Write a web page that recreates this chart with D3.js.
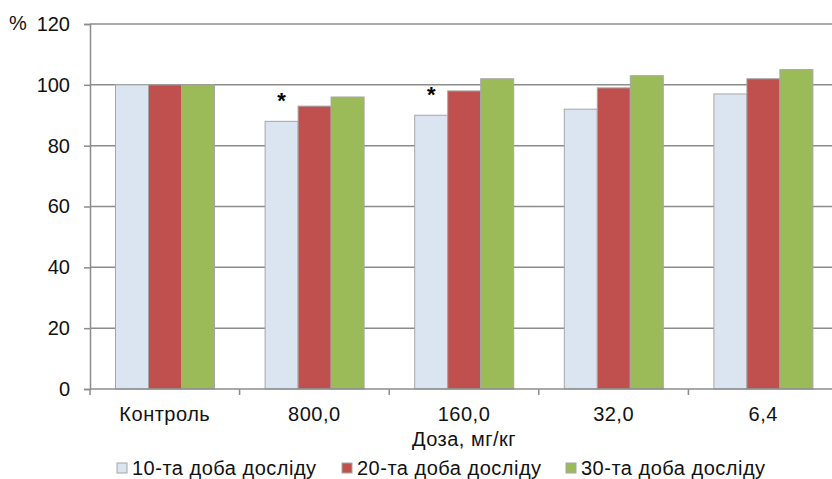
<!DOCTYPE html>
<html><head><meta charset="utf-8">
<script src="https://cdn.jsdelivr.net/npm/d3@7"></script>
<style>
html,body{margin:0;padding:0;background:#fff;}
svg{display:block;font-family:"Liberation Sans",Arial,sans-serif;}
</style></head>
<body>
<svg id="c" width="832" height="479"></svg>
<script>
const categories = ["Контроль","800,0","160,0","32,0","6,4"];
const seriesNames = ["10-та доба досліду","20-та доба досліду","30-та доба досліду"];
const day10 = [100, 88, 90, 92, 97];
const day20 = [100, 93, 98, 99, 102];
const day30 = [100, 96, 102, 103, 105];
const significant = [false, true, true, false, false];
const yTicks = [0,20,40,60,80,100,120];
const colors = ["#dbe5f1","#c0504d","#9bbb59"];

(function(){
const FS = 20;
const LS = 0.5;
const series = [day10, day20, day30];
const svg = d3.select("#c");
const mLeft = 90, mRight = 838, mTop = 24, mBottom = 389;

const x = d3.scaleBand().domain(categories).range([mLeft, mRight]).padding(0);
const y = d3.scaleLinear().domain([0,120]).range([mBottom, mTop]);
const inner = d3.scaleBand().domain(d3.range(series.length)).range([25.5, 124.5]).padding(0);

// gridlines
svg.append("g").selectAll("line").data(yTicks.filter(t=>t>0)).join("line")
  .attr("x1", mLeft).attr("x2", 832)
  .attr("y1", d=>y(d)).attr("y2", d=>y(d))
  .attr("stroke", "#8c8c8c").attr("stroke-width", 1.5);

// bars
const g = svg.append("g");
series.forEach((vals, si) => {
  g.selectAll(null).data(vals).join("rect")
    .attr("x", (d,i)=> x(categories[i]) + inner(si))
    .attr("y", d=> y(d))
    .attr("width", inner.bandwidth())
    .attr("height", d=> y(0)-y(d))
    .attr("fill", colors[si])
    .attr("stroke", "#a6a6a6").attr("stroke-width", 1);
});

// asterisks
svg.append("g").selectAll("text").data(categories.filter((c,i)=>significant[i])).join("text")
  .attr("x", c=> x(c) + inner(0) + inner.bandwidth()/2)
  .attr("y", c=> y(day10[categories.indexOf(c)]) - 13)
  .attr("text-anchor","middle")
  .attr("font-size", 22).attr("font-weight","bold")
  .text("*");

// y axis
const yAxis = d3.axisLeft(y).tickValues(yTicks).tickSize(6).tickPadding(14);
const ya = svg.append("g").attr("transform", `translate(${mLeft},0)`).call(yAxis);
ya.attr("font-size", FS).attr("font-family","Liberation Sans, Arial, sans-serif");
ya.select(".domain").attr("stroke","#8c8c8c").attr("stroke-width",1.5);
ya.selectAll(".tick line").attr("stroke","#8c8c8c").attr("stroke-width",1.5);
ya.selectAll(".tick text").attr("fill","#111");

// x axis
const xa = svg.append("g").attr("transform", `translate(0,${mBottom})`);
xa.append("line").attr("x1", mLeft).attr("x2", 832).attr("y1",0).attr("y2",0)
  .attr("stroke","#8c8c8c").attr("stroke-width",1.5);
const xTickPos = categories.map(c=>x(c));
xa.selectAll("line.t").data(xTickPos).join("line").attr("class","t")
  .attr("x1", d=>d).attr("x2", d=>d).attr("y1",0).attr("y2",6)
  .attr("stroke","#8c8c8c").attr("stroke-width",1.5);
xa.selectAll("text").data(categories).join("text")
  .attr("x", c=> x(c)+x.bandwidth()/2).attr("y", 32)
  .attr("text-anchor","middle").attr("font-size",FS).attr("letter-spacing",LS).attr("fill","#111").text(c=>c);

svg.append("text").attr("x", 9).attr("y", 30).attr("font-size",FS).attr("fill","#111").text("%");
svg.append("text").attr("x", 464).attr("y", 446).attr("text-anchor","middle").attr("font-size",FS).attr("letter-spacing",LS).attr("fill","#111").text("Доза, мг/кг");

// legend
const legX = [117, 342, 566];
const lg = svg.append("g").selectAll("g").data(seriesNames).join("g")
  .attr("transform", (d,i)=>`translate(${legX[i]},463)`);
lg.append("rect").attr("width",10).attr("height",10).attr("fill",(d,i)=>colors[i]).attr("stroke","#a6a6a6");
lg.append("text").attr("x",15).attr("y",12).attr("font-size",FS).attr("letter-spacing",LS).attr("fill","#111").text(d=>d);
})();
</script>
</body></html>
